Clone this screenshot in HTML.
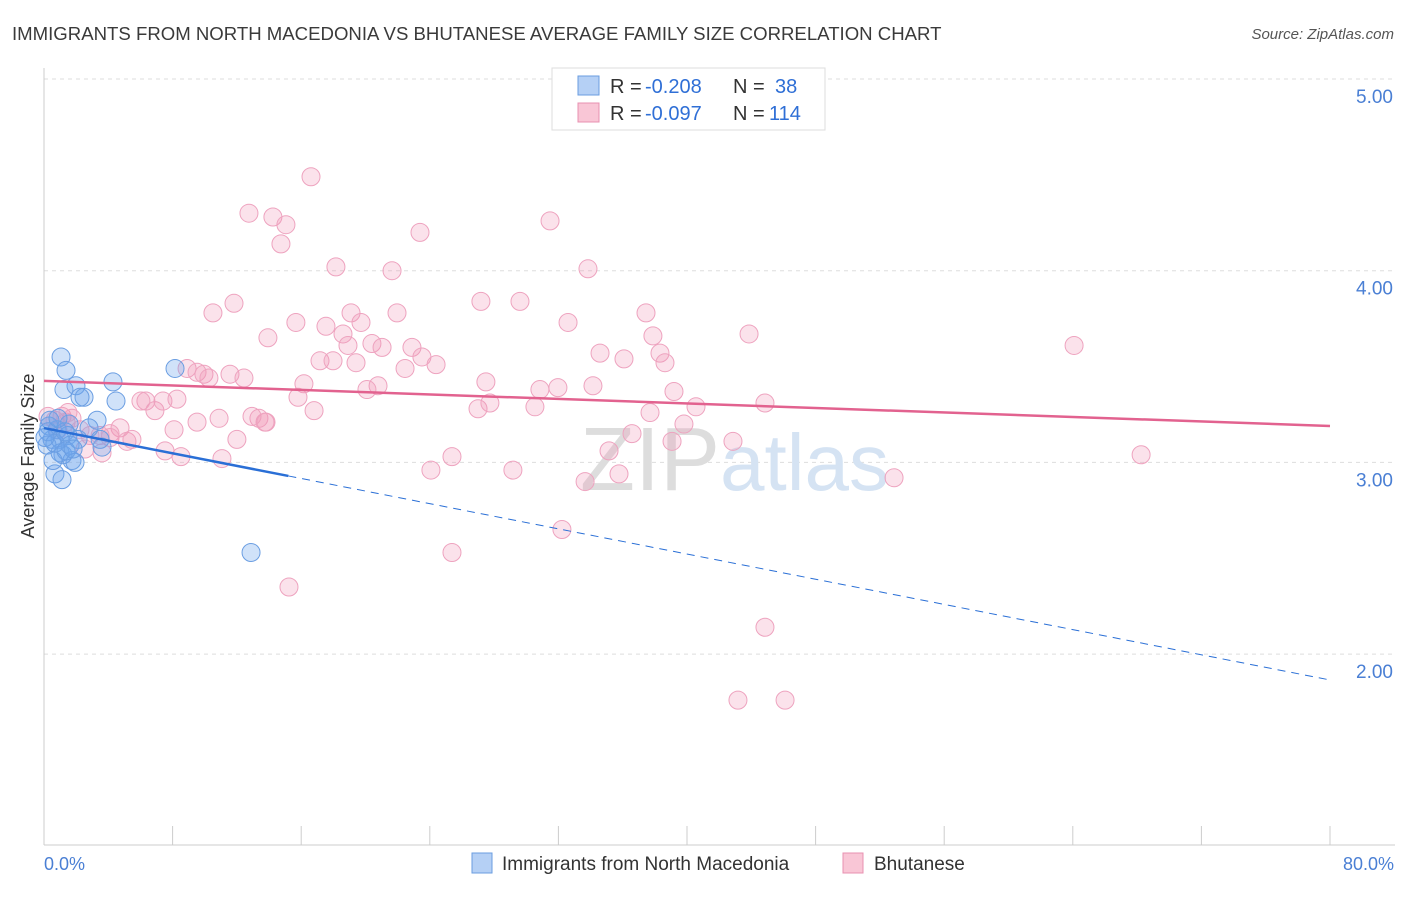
<!DOCTYPE html>
<html><head><meta charset="utf-8"><style>
body{margin:0;background:#fff;font-family:"Liberation Sans",sans-serif}
svg text{font-family:"Liberation Sans",sans-serif}
</style></head><body>
<svg id="c" width="1406" height="892" xmlns="http://www.w3.org/2000/svg">
<text x="12" y="40" font-size="18.6" fill="#3a3a3a">IMMIGRANTS FROM NORTH MACEDONIA VS BHUTANESE AVERAGE FAMILY SIZE CORRELATION CHART</text>
<text x="1394" y="39" font-size="15" fill="#555" text-anchor="end" font-style="italic">Source: ZipAtlas.com</text>
<g id="grid"></g>
<text x="720" y="490" font-size="90" font-family="Liberation Serif" fill="#ddd" text-anchor="end">ZIP</text>
<text x="720" y="490" font-size="80" fill="#d5e3f3">atlas</text>
<line x1="44" y1="68" x2="44" y2="845" stroke="#ccc"/>
<line x1="44" y1="845" x2="1395" y2="845" stroke="#ccc"/>
<g id="xt"></g>
<g id="pts"></g>
<g id="lines"></g>
<text x="34" y="456" font-size="18" fill="#333" text-anchor="middle" transform="rotate(-90 34 456)">Average Family Size</text>
<text x="44" y="870" font-size="18" fill="#4a7fd4">0.0%</text>
<text x="1394" y="870" font-size="18" fill="#4a7fd4" text-anchor="end">80.0%</text>
<g>
<rect x="552" y="68" width="273" height="62" fill="#fff" stroke="#ddd"/>
<rect x="578" y="76" width="21" height="19" fill="#b5d0f5" stroke="#6a9de0"/>
<rect x="578" y="103" width="21" height="19" fill="#f9c6d6" stroke="#e890b0"/>
<text x="610" y="93" font-size="20" fill="#333">R =</text>
<text x="645" y="93" font-size="20" fill="#2f6fd6">-0.208</text>
<text x="733" y="93" font-size="20" fill="#333">N =</text>
<text x="775" y="93" font-size="20" fill="#2f6fd6">38</text>
<text x="610" y="120" font-size="20" fill="#333">R =</text>
<text x="645" y="120" font-size="20" fill="#2f6fd6">-0.097</text>
<text x="733" y="120" font-size="20" fill="#333">N =</text>
<text x="769" y="120" font-size="20" fill="#2f6fd6">114</text>
</g>
<g>
<rect x="472" y="853" width="20" height="20" fill="#b5d0f5" stroke="#6a9de0"/>
<text x="502" y="870" font-size="19" fill="#333">Immigrants from North Macedonia</text>
<rect x="843" y="853" width="20" height="20" fill="#f9c6d6" stroke="#e890b0"/>
<text x="874" y="870" font-size="19" fill="#333">Bhutanese</text>
</g>
</svg>
<script>
const yTicks=[5,4,3,2];
const yTickLabels=["5.00","4.00","3.00","2.00"];
const blueX=[1.06,1.37,1.24,1.99,2.49,2.24,4.29,4.48,8.15,3.3,1.56,0.81,0.5,1.0,0.31,0.19,1.49,1.74,1.93,1.18,0.68,1.12,3.61,2.8,1.0,12.88,0.37,0.25,0.68,1.31,0.87,1.62,2.12,0.06,3.49,0.56,1.37,1.81];
const blueY=[3.55,3.48,3.38,3.4,3.34,3.34,3.42,3.32,3.49,3.22,3.2,3.17,3.12,3.12,3.19,3.09,3.14,3.01,3.0,3.04,2.94,2.91,3.08,3.18,3.05,2.53,3.22,3.16,3.1,3.16,3.23,3.09,3.12,3.13,3.12,3.01,3.06,3.07];
const pinkX=[16.61,12.75,14.24,15.05,14.74,23.39,31.48,18.16,21.65,33.84,11.82,10.51,13.93,15.67,17.54,19.1,19.72,18.6,21.96,27.18,29.61,32.6,37.45,37.88,43.86,64.08,18.91,20.4,21.03,22.89,17.17,17.98,19.41,23.51,22.46,24.39,34.59,36.08,38.32,38.63,8.9,9.52,9.95,10.26,11.57,12.44,16.17,20.78,20.09,27.49,30.85,31.97,34.15,39.19,6.34,6.9,7.4,8.27,6.03,15.8,16.8,27.0,27.74,30.54,37.7,40.56,44.85,10.89,9.52,13.37,13.75,12.94,13.81,39.81,36.58,42.86,12.0,8.09,4.73,4.11,2.86,5.16,5.47,7.53,8.52,11.07,25.38,35.15,39.07,68.25,24.07,29.17,35.77,33.66,52.88,32.22,25.38,15.24,44.85,43.17,46.1,0.25,0.68,1.12,1.74,0.87,1.37,2.24,3.49,4.11,2.55,3.61,1.49];
const pinkY=[4.49,4.3,4.28,4.24,4.14,4.2,4.26,4.02,4.0,4.01,3.83,3.78,3.65,3.73,3.71,3.78,3.73,3.67,3.78,3.84,3.84,3.73,3.78,3.66,3.67,3.61,3.61,3.62,3.6,3.6,3.53,3.53,3.52,3.55,3.49,3.51,3.57,3.54,3.57,3.52,3.49,3.47,3.46,3.44,3.46,3.44,3.41,3.4,3.38,3.42,3.38,3.39,3.4,3.37,3.32,3.27,3.32,3.33,3.32,3.34,3.27,3.28,3.31,3.29,3.26,3.29,3.31,3.23,3.21,3.23,3.21,3.24,3.21,3.2,3.15,3.11,3.12,3.17,3.18,3.15,3.14,3.11,3.12,3.06,3.03,3.02,3.03,3.06,3.11,3.04,2.96,2.96,2.94,2.9,2.92,2.65,2.53,2.35,2.14,1.76,1.76,3.24,3.22,3.24,3.23,3.17,3.21,3.17,3.14,3.13,3.07,3.05,3.26];
const blueTrend=[3.179,1.865];
const pinkTrend=[3.425,3.190];
const blueSolidEnd=15.2;
const NS="http://www.w3.org/2000/svg";
const xs=v=>44+v*1286/80, ys=v=>79+(5-v)*191.7;
function mk(t,a,p){const e=document.createElementNS(NS,t);for(const k in a)e.setAttribute(k,a[k]);p.appendChild(e);return e;}
const grid=document.getElementById('grid');
yTicks.forEach((v,i)=>{
 const l=mk('line',{x1:44,x2:1395,y1:ys(v),y2:ys(v),stroke:'#ddd','stroke-dasharray':'4,4'},grid);
 
 
 const t=mk('text',{x:1393,y:ys(v)+24,'font-size':19,fill:'#4a7fd4','text-anchor':'end'},grid);
 t.textContent=yTickLabels[i];
 
 
});
const xt=document.getElementById('xt');
for(let i=0;i<=10;i++){const l=mk('line',{x1:xs(i*8),x2:xs(i*8),y1:826,y2:845,stroke:'#ccc'},xt);
 
 }
const pts=document.getElementById('pts');
pinkX.forEach((x,i)=>{const c=mk('circle',{cx:xs(x),cy:ys(pinkY[i]),r:9,fill:'rgba(242,150,182,0.28)',stroke:'#eea3bf','stroke-width':1},pts);
 
 });
blueX.forEach((x,i)=>{const c=mk('circle',{cx:xs(x),cy:ys(blueY[i]),r:9,fill:'rgba(110,165,235,0.32)',stroke:'#6b9ee2','stroke-width':1},pts);
 
 });
const ln=document.getElementById('lines');
const bAt=x=>blueTrend[0]+(blueTrend[1]-blueTrend[0])*x/80;
let l1=mk('line',{x1:xs(0),y1:ys(pinkTrend[0]),x2:xs(80),y2:ys(pinkTrend[1]),stroke:'#e2628f','stroke-width':2.5},ln);


let l2=mk('line',{x1:xs(0),y1:ys(bAt(0)),x2:xs(blueSolidEnd),y2:ys(bAt(blueSolidEnd)),stroke:'#2a6fd6','stroke-width':2.5},ln);


let l3=mk('line',{x1:xs(blueSolidEnd),y1:ys(bAt(blueSolidEnd)),x2:xs(80),y2:ys(bAt(80)),stroke:'#2a6fd6','stroke-width':1,'stroke-dasharray':'8,6'},ln);


</script>
</body></html>
